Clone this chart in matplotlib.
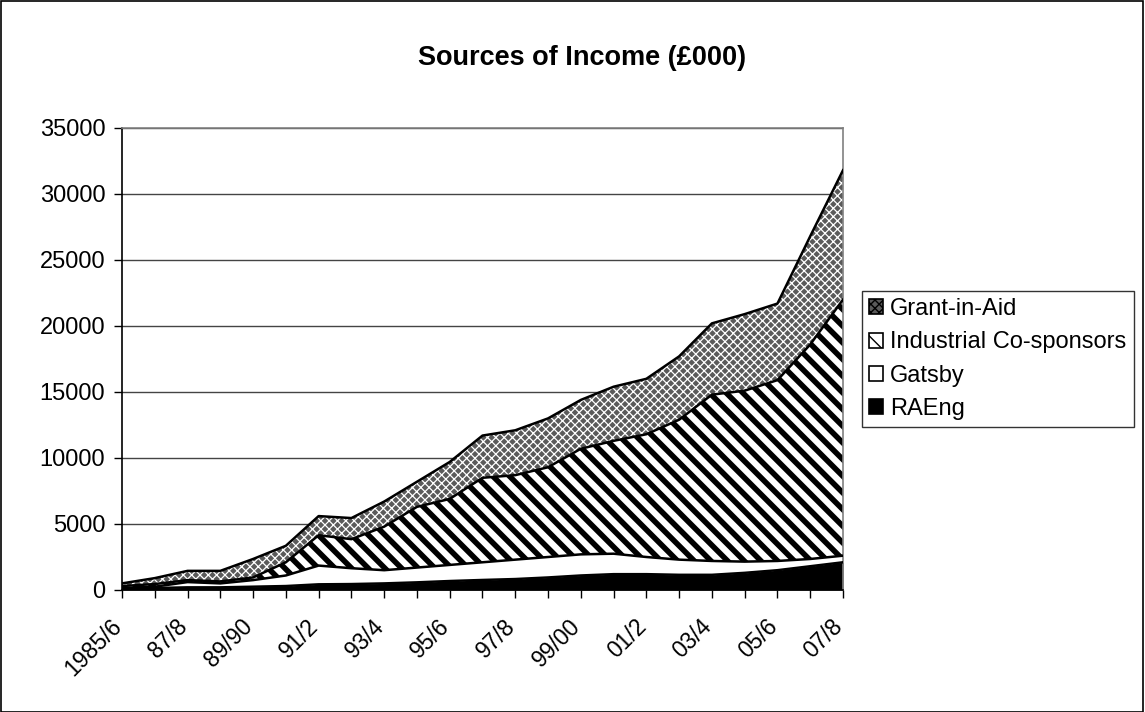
import matplotlib
matplotlib.use("Agg")
import matplotlib.pyplot as plt
import matplotlib.transforms as mtransforms
from matplotlib.patches import Patch, Rectangle
import numpy as np

plt.rcParams['font.family'] = ['Liberation Sans', 'DejaVu Sans']

# data (£000)
years = ['1985/6', '86/7', '87/8', '88/9', '89/90', '90/1', '91/2', '92/3', '93/4',
         '94/5', '95/6', '96/7', '97/8', '98/9', '99/00', '00/1', '01/2', '02/3',
         '03/4', '04/5', '05/6', '06/7', '07/8']
raeng = [100, 150, 200, 200, 250, 300, 430, 450, 500, 580, 680, 760, 830, 950,
         1100, 1200, 1200, 1150, 1150, 1300, 1500, 1800, 2100]
gatsby = [50, 100, 400, 300, 500, 800, 1420, 1200, 1000, 1120, 1220, 1340, 1470,
          1550, 1600, 1550, 1300, 1150, 1050, 850, 700, 550, 500]
industrial = [150, 200, 150, 150, 200, 1000, 2300, 2200, 3300, 4600, 5000, 6400,
              6400, 6800, 8000, 8550, 9300, 10600, 12600, 12950, 13700, 16250, 19400]
grant = [200, 450, 700, 800, 1400, 1250, 1450, 1600, 1900, 1900, 2800, 3200, 3400,
         3700, 3700, 4100, 4200, 4800, 5400, 5800, 5800, 8200, 9800]

x = np.arange(len(years))
series = [
    # name, values, facecolor, hatch, hatch colour, hatch width
    ('RAEng', raeng, 'black', None, 'black', 1.0),
    ('Gatsby', gatsby, 'white', None, 'black', 1.0),
    ('Industrial Co-sponsors', industrial, 'white', '\\\\', 'black', 4.0),
    ('Grant-in-Aid', grant, '#5a5a5a', 'xxxx', 'white', 0.9),
]

fig = plt.figure(figsize=(11.45, 7.12), dpi=100)
ax = fig.add_axes([122 / 1145, 1 - 590 / 712, (843 - 122) / 1145, (590 - 128) / 712])

bottom = np.zeros(len(x))
handles = {}
for name, vals, fc, hatch, hc, hlw in series:
    top = bottom + np.array(vals)
    with plt.rc_context({'hatch.color': hc, 'hatch.linewidth': hlw}):
        coll = ax.fill_between(x, bottom, top, facecolor=fc, edgecolor=hc,
                               linewidth=0, hatch=hatch, zorder=2)
        if hasattr(coll, 'set_hatch_linewidth'):
            coll.set_hatch_linewidth(hlw)
        h = Patch(facecolor=fc, edgecolor=hc, hatch=hatch, linewidth=0)
        if hasattr(h, 'set_hatch_linewidth'):
            h.set_hatch_linewidth(min(hlw, 2.5))
    handles[name] = h
    ax.plot(x, top, color='black', linewidth=1.8, zorder=3)
    bottom = top

ax.set_xlim(0, len(x) - 1)
ax.set_ylim(0, 35000)
ax.set_yticks(np.arange(0, 35001, 5000))
ax.yaxis.grid(True, color='#444444', linewidth=1.0, zorder=1)
ax.set_axisbelow(True)

ax.set_xticks(x)
ax.set_xticklabels([y if i % 2 == 0 else '' for i, y in enumerate(years)],
                   rotation=45, ha='right', rotation_mode='anchor')
ax.tick_params(axis='both', labelsize=16.5, direction='out', length=6, width=1,
               color='black')
ax.tick_params(axis='y', labelsize=17, pad=6)
ax.tick_params(axis='x', pad=12)

# nudge the slanted labels left, like Excel places them
shift = mtransforms.ScaledTranslation(-12 / 100, 0, fig.dpi_scale_trans)
for lbl in ax.get_xticklabels():
    lbl.set_transform(lbl.get_transform() + shift)

for side in ['left', 'bottom']:
    ax.spines[side].set_color('black')
    ax.spines[side].set_linewidth(1.2)
for side in ['top', 'right']:
    ax.spines[side].set_color('#808080')
    ax.spines[side].set_linewidth(1.2)

fig.text(582 / 1145, 1 - 58 / 712, 'Sources of Income (£000)', ha='center',
         va='center', fontsize=19.5, fontweight='bold')

leg_order = ['Grant-in-Aid', 'Industrial Co-sponsors', 'Gatsby', 'RAEng']
leg = fig.legend([handles[n] for n in leg_order], leg_order,
                 loc='upper left', bbox_to_anchor=(862 / 1145, 1 - 291 / 712),
                 fontsize=17, frameon=True, fancybox=False, borderpad=0.3,
                 handlelength=0.6, handleheight=0.6, handletextpad=0.3,
                 labelspacing=0.48, borderaxespad=0)
leg.get_frame().set_edgecolor('black')
leg.get_frame().set_linewidth(1.0)
for h in leg.legend_handles:
    h.set_edgecolor('black')
    h.set_linewidth(1.2)

fig.patches.append(Rectangle((0.0005, 0.0007), 0.998, 0.998, transform=fig.transFigure,
                             fill=False, edgecolor='black', linewidth=1.2))

fig.savefig('out.png', dpi=100)
